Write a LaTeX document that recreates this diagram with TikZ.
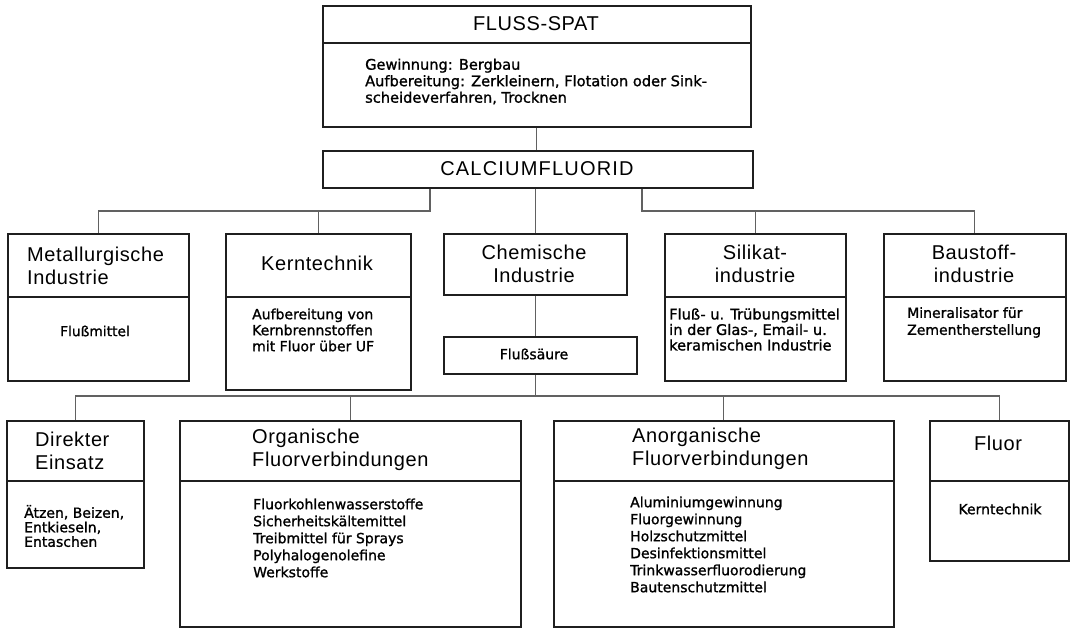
\documentclass[tikz,border=0pt]{standalone}
\usepackage{fontspec}
\setmainfont{Liberation Sans}
\newfontfamily\titlefont[LetterSpace=3]{Liberation Sans}
\newfontfamily\calcfont[LetterSpace=6]{Liberation Sans}
\newfontfamily\headfont[LetterSpace=3]{Liberation Sans}
\newfontfamily\smallfont[FakeBold=1.2]{DejaVu Sans}
\tikzset{
  box/.style={draw=black!88, line width=1.6pt, rectangle, inner sep=0pt, anchor=north west},
  conn/.style={draw=black!62, line width=1.1pt},
  txt/.style={inner sep=0pt, text=black},
  titlest/.style={txt, font=\titlefont\fontsize{20}{22}\selectfont},
  calcst/.style={txt, font=\calcfont\fontsize{20}{22}\selectfont},
  head/.style={txt, font=\headfont\fontsize{20}{23}\selectfont, align=center},
  headl/.style={txt, font=\headfont\fontsize{20}{23}\selectfont, align=left, anchor=west},
  sm/.style 2 args={txt, font=\smallfont\fontsize{#1}{#2}\selectfont, align=left, anchor=west},
  smc/.style={txt, font=\smallfont\fontsize{#1}{16}\selectfont}
}
\begin{document}
\begin{tikzpicture}[x=1pt,y=-1pt]
\useasboundingbox (0,0) rectangle (1074,628);
\fill[white] (0,0) rectangle (1074,628);
% boxes
\node[box, minimum width=428, minimum height=37] (flussH) at (322,5) {};
\node[box, minimum width=428, minimum height=84] (flussB) at (322,42) {};
\node[box, minimum width=430, minimum height=37] (calc) at (322,150) {};
\node[box, minimum width=181, minimum height=63] (metH) at (7,233) {};
\node[box, minimum width=181, minimum height=84] (metB) at (7,296) {};
\node[box, minimum width=185, minimum height=63] (kerH) at (225,233) {};
\node[box, minimum width=185, minimum height=93] (kerB) at (225,296) {};
\node[box, minimum width=183, minimum height=61] (chH) at (443,233) {};
\node[box, minimum width=193, minimum height=37] (fs) at (443,336) {};
\node[box, minimum width=181, minimum height=63] (silH) at (664,233) {};
\node[box, minimum width=181, minimum height=84] (silB) at (664,296) {};
\node[box, minimum width=182, minimum height=63] (bauH) at (883,233) {};
\node[box, minimum width=182, minimum height=84] (bauB) at (883,296) {};
\node[box, minimum width=137, minimum height=60] (dirH) at (6,420) {};
\node[box, minimum width=137, minimum height=87] (dirB) at (6,480) {};
\node[box, minimum width=341, minimum height=60] (orgH) at (179,420) {};
\node[box, minimum width=341, minimum height=146] (orgB) at (179,480) {};
\node[box, minimum width=340, minimum height=60] (anoH) at (553,420) {};
\node[box, minimum width=340, minimum height=146] (anoB) at (553,480) {};
\node[box, minimum width=139, minimum height=60] (fluH) at (929,420) {};
\node[box, minimum width=139, minimum height=80] (fluB) at (929,480) {};
% connectors
\coordinate (jl) at (430,211);
\coordinate (jr) at (642,211);
\coordinate (jb) at (535,396);
\draw[conn] (flussB.south) -- (flussB.south |- calc.north);
\draw[conn] (calc.south -| jl) -- (jl) -| (metH.north);
\draw[conn] (jl -| kerH.north) -- (kerH.north);
\draw[conn] (calc.south -| chH.north) -- (chH.north);
\draw[conn] (calc.south -| jr) -- (jr) -| (bauH.north);
\draw[conn] (jr -| silH.north) -- (silH.north);
\draw[conn] (chH.south) -- (chH.south |- fs.north);
\draw[conn] (chH.south |- fs.south) -- (chH.south |- jb);
\draw[conn] (dirH.north) -- (dirH.north |- jb) -- (fluH.north |- jb) -- (fluH.north);
\draw[conn] (orgH.north |- jb) -- (orgH.north);
\draw[conn] (anoH.north |- jb) -- (anoH.north);
% texts
\node[titlest] (tFluss) at (536,24) {FLUSS-SPAT};
\node[sm={14.6}{16.5}] (tFlussB) at (365,81.5) {Gewinnung: Bergbau\\Aufbereitung: Zerkleinern, Flotation oder Sink-\\scheideverfahren, Trocknen};
\node[calcst] (tCalc) at (537,169) {CALCIUMFLUORID};
\node[headl] (tMet) at (27,266) {Metallurgische\\Industrie};
\node[head] (tKer) at (317,263) {Kerntechnik};
\node[head] (tCh) at (534,264) {Chemische\\Industrie};
\node[head] (tSil) at (755,264) {Silikat-\\industrie};
\node[head] (tBau) at (974,264) {Baustoff-\\industrie};
\node[smc=13.8] (tMetB) at (95,331) {Flußmittel};
\node[sm={14}{16}] (tKerB) at (252,330) {Aufbereitung von\\Kernbrennstoffen\\mit Fluor über UF};
\node[smc=14] (tFs) at (534,354) {Flußsäure};
\node[sm={14.6}{15.5}] (tSilB) at (669,329.5) {Fluß- u. Trübungsmittel\\in der Glas-, Email- u.\\keramischen Industrie};
\node[sm={14}{17}] (tBauB) at (907,322.5) {Mineralisator für\\Zementherstellung};
\node[headl] (tDir) at (35,451) {Direkter\\Einsatz};
\node[sm={14}{14.5}] (tDirB) at (24,526) {Ätzen, Beizen,\\Entkieseln,\\Entaschen};
\node[headl] (tOrg) at (252,450) {Organische\\Fluorverbindungen};
\node[sm={14}{17}] (tOrgB) at (253,538) {Fluorkohlenwasserstoffe\\Sicherheitskältemittel\\Treibmittel für Sprays\\Polyhalogenolefine\\Werkstoffe};
\node[headl] (tAno) at (632,449) {Anorganische\\Fluorverbindungen};
\node[sm={14}{17}] (tAnoB) at (630,544.5) {Aluminiumgewinnung\\Fluorgewinnung\\Holzschutzmittel\\Desinfektionsmittel\\Trinkwasserfluorodierung\\Bautenschutzmittel};
\node[head] (tFlu) at (998,443) {Fluor};
\node[smc=14] (tFluB) at (1000,509) {Kerntechnik};
\end{tikzpicture}
\end{document}
